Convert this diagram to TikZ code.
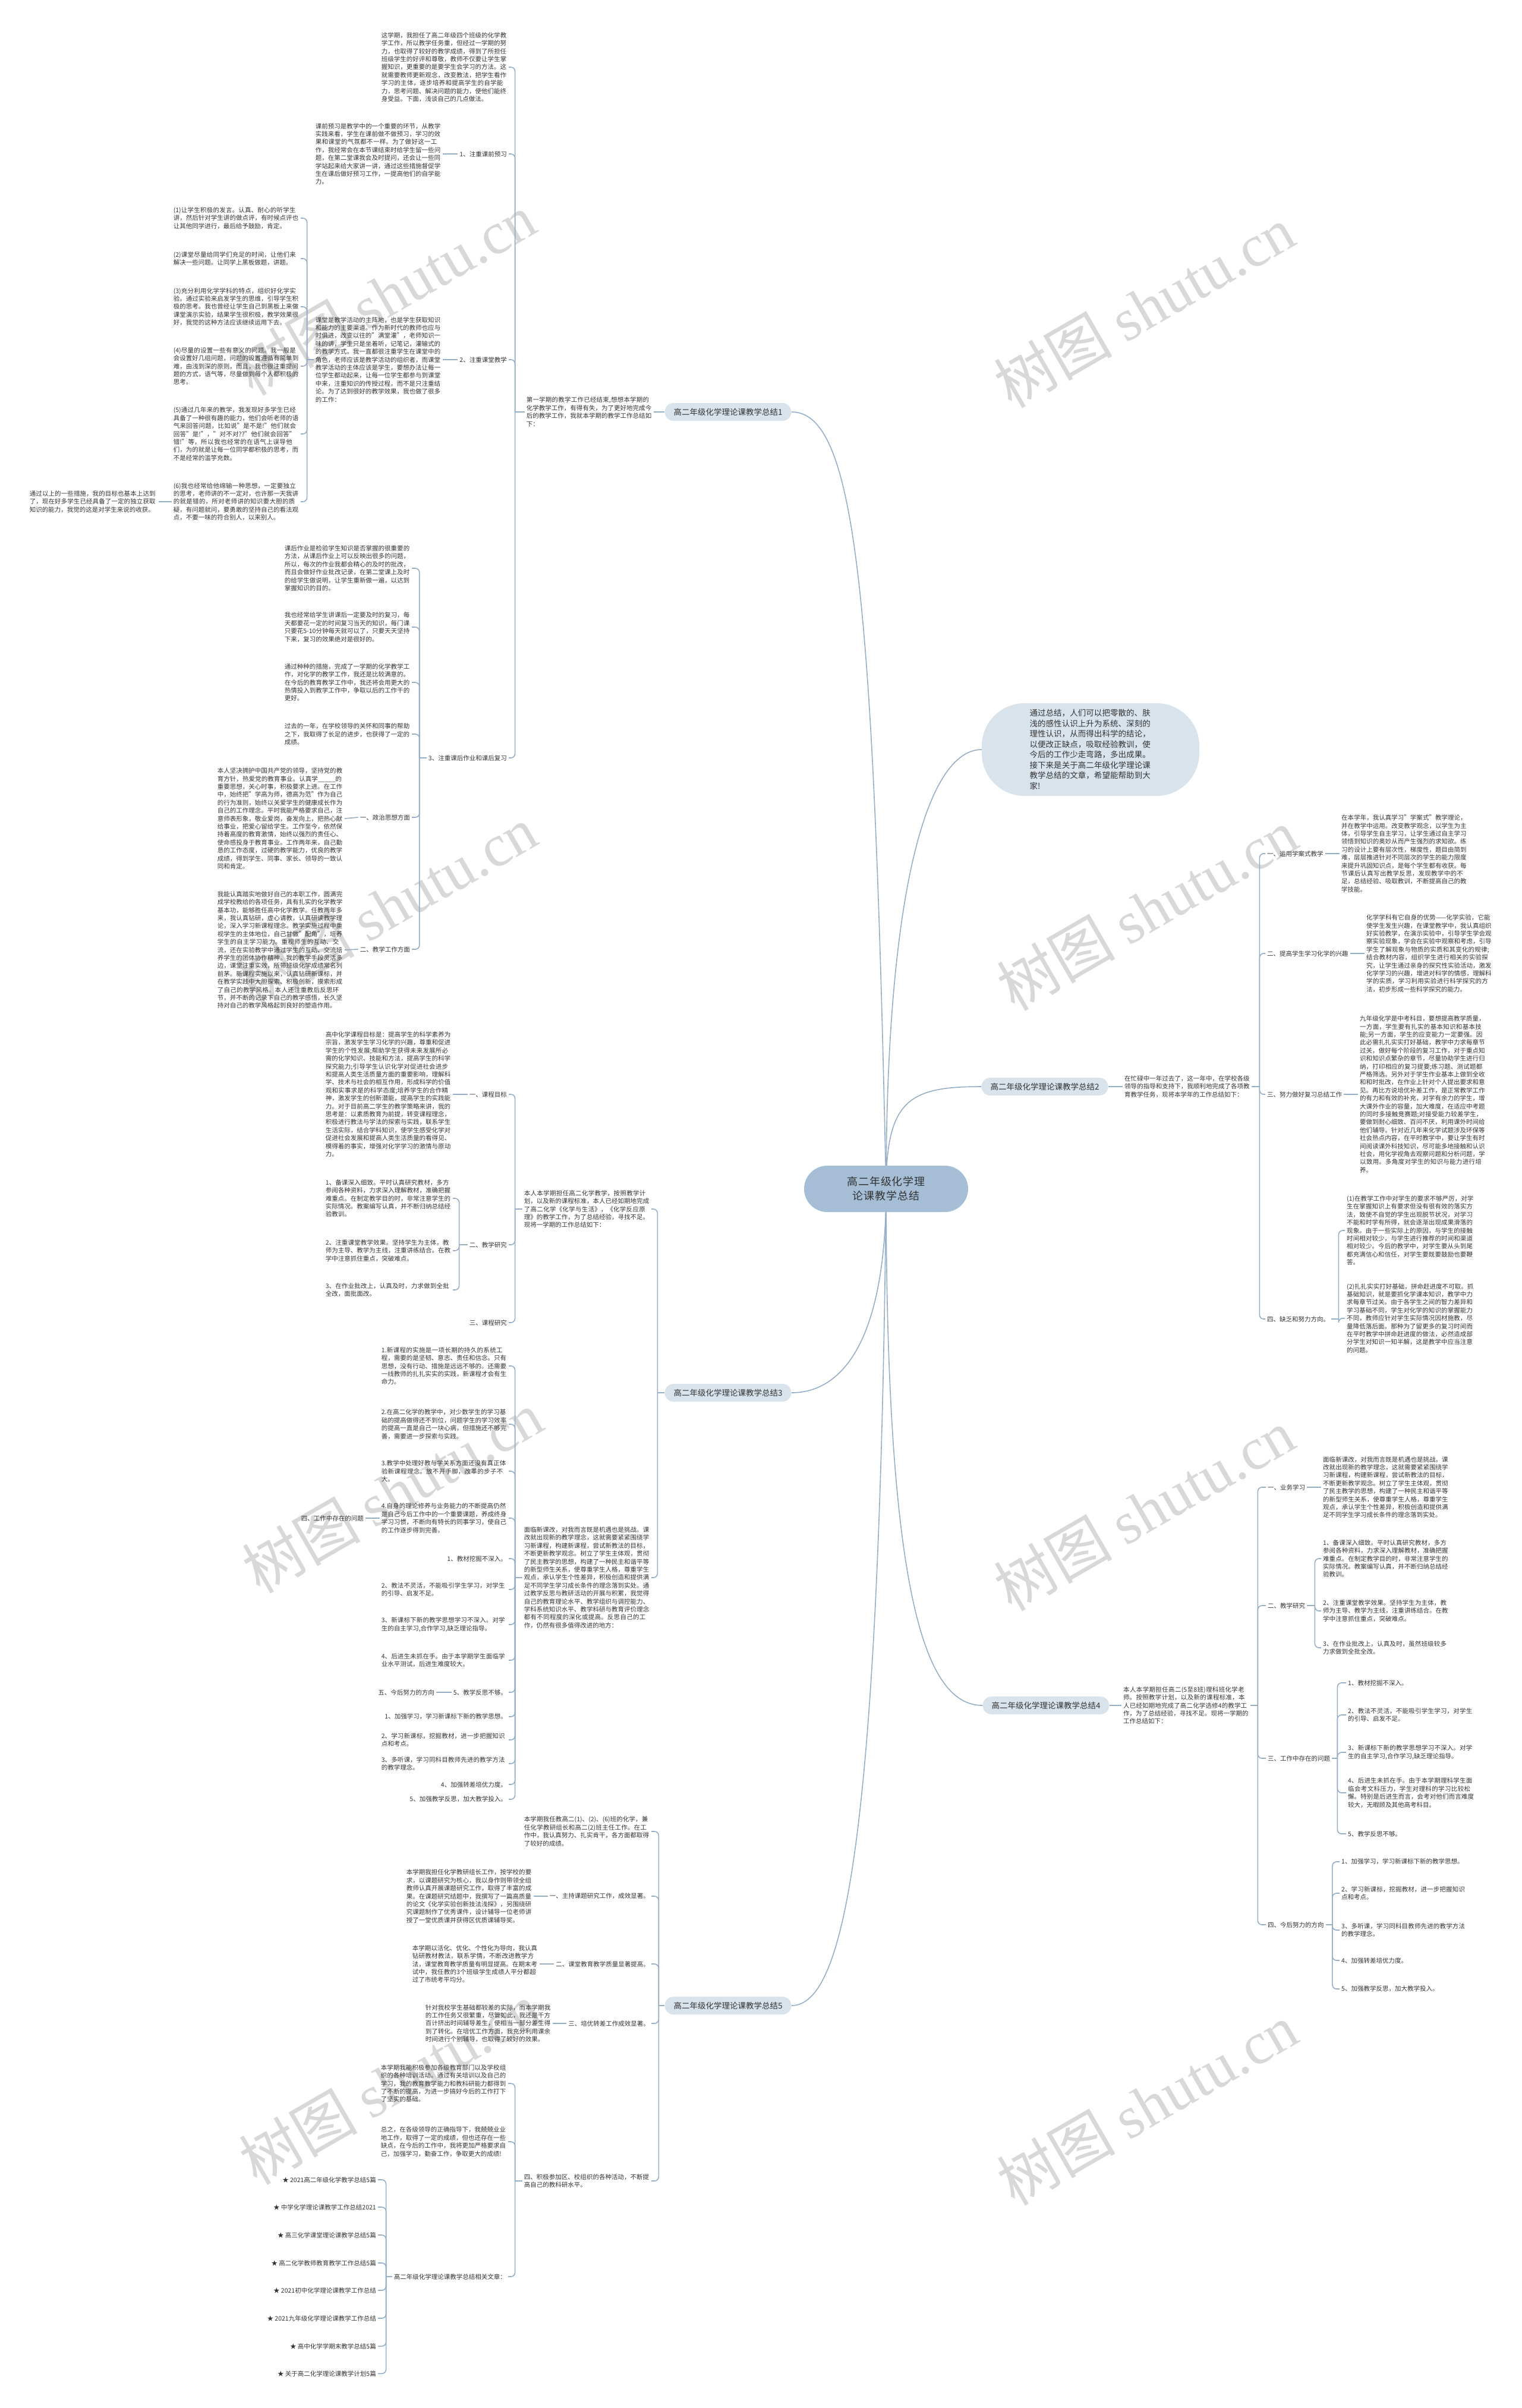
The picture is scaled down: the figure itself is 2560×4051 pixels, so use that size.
\documentclass[tikz,border=0pt]{standalone}
\usepackage{fontspec}
\setmainfont{Noto Sans CJK SC}
\newfontfamily\wmlat{Liberation Serif}
\XeTeXlinebreaklocale "zh"
\XeTeXlinebreakskip=0pt plus 1pt
\pgfdeclarelayer{wmlayer}
\pgfdeclarelayer{bglayer}
\pgfsetlayers{wmlayer,bglayer,main}
\definecolor{lnc}{RGB}{150,174,198}
\definecolor{pillc}{RGB}{216,227,236}
\definecolor{rootc}{RGB}{165,190,214}
\definecolor{txtc}{RGB}{51,51,51}
\definecolor{wmc}{RGB}{216,216,216}
\tikzset{
  lnk/.style={draw=lnc,line width=1.6pt},
  txt/.style={inner xsep=3pt,inner ysep=1pt,text=txtc,font=\fontsize{10.5pt}{13.4pt}\selectfont,align=left},
  txw/.style={txt,text width=211pt},
  brn/.style={fill=pillc,rounded corners=15pt,minimum width=213pt,minimum height=30pt,inner sep=2pt,text=txtc,font=\fontsize{13.5pt}{16pt}\selectfont},
  rootn/.style={fill=rootc,rounded corners=39pt,minimum width=276pt,minimum height=78pt,text width=200pt,align=center,text=txtc,font=\fontsize{18pt}{24pt}\selectfont},
  ipill/.style={fill=pillc,rounded corners=72pt,minimum width=366pt,minimum height=156pt,text width=205pt,align=left,text=txtc,font=\fontsize{13.5pt}{17.5pt}\selectfont},
  wmk/.style={rotate=30,text=wmc,inner sep=0pt,font=\fontsize{100pt}{110pt}\selectfont}
}
\newcommand\lnkL[3]{\draw[lnk] (#1.west) -- ++(-#3,0);
  \draw[lnk,rounded corners=7pt] ([xshift=-#3pt]#1.west) |- (#2.east);}
\newcommand\lnkR[3]{\draw[lnk] (#1.east) -- ++(#3,0);
  \draw[lnk,rounded corners=7pt] ([xshift=#3pt]#1.east) |- (#2.west);}
\begin{document}
\begin{tikzpicture}[x=1pt,y=-1pt]
\path[use as bounding box] (0,0) rectangle (2560,4051);

% ---------- watermarks ----------
\begin{pgfonlayer}{wmlayer}
\fill[white] (0,0) rectangle (2560,4051);
\foreach \wx/\wy [count=\i] in {648/495,650/1525,660/2510,655/3505,1925/516,1930/1530,1925/2540,1930/3540}{
  \node[wmk] (wm\i) at (\wx,\wy) {树图 {\wmlat shutu.cn}};
}
\end{pgfonlayer}

% ---------- root ----------
\node[rootn] (root) at (1491,2000) {高二年级化学理论课教学总结};
\node[ipill] (ip) at (1835,1261) {通过总结，人们可以把零散的、肤浅的感性认识上升为系统、深刻的理性认识，从而得出科学的结论，以便改正缺点，吸取经验教训，使今后的工作少走弯路，多出成果。接下来是关于高二年级化学理论课教学总结的文章，希望能帮助到大家!};
\node[brn] (b1) at (1225,693) {高二年级化学理论课教学总结1};
\node[brn] (b2) at (1758,1828) {高二年级化学理论课教学总结2};
\node[brn] (b3) at (1225,2343) {高二年级化学理论课教学总结3};
\node[brn] (b4) at (1760,2869) {高二年级化学理论课教学总结4};
\node[brn] (b5) at (1225,3374) {高二年级化学理论课教学总结5};

% ---------- branch 1 ----------
\node[txw,anchor=east] (i1) at (1100,693) {第一学期的教学工作已经结束,想想本学期的化学教学工作，有得有失，为了更好地完成今后的教学工作，我就本学期的教学工作总结如下：};
\node[txw,anchor=east] (t0) at (856,113) {这学期，我担任了高二年级四个班级的化学教学工作，所以教学任务重，但经过一学期的努力，也取得了较好的教学成绩，得到了所担任班级学生的好评和尊敬，教师不仅要让学生掌握知识，更重要的是要学生会学习的方法。这就需要教师更新观念，改变教法，把学生看作学习的主体，逐步培养和提高学生的自学能力，思考问题、解决问题的能力，使他们能终身受益。下面，浅谈自己的几点做法。};
\node[txt,anchor=east] (c1) at (856,259) {1、注重课前预习};
\node[txt,anchor=east] (c2) at (856,605) {2、注重课堂教学};
\node[txt,anchor=east] (c3) at (856,1275) {3、注重课后作业和课后复习};
\node[txw,anchor=east] (t1) at (745,259) {课前预习是教学中的一个重要的环节，从教学实践来看，学生在课前做不做预习，学习的效果和课堂的气氛都不一样。为了做好这一工作，我经常会在本节课结束时给学生留一些问题，在第二堂课我会及时提问，还会让一些同学站起来给大家讲一讲，通过这些措施督促学生在课后做好预习工作，一提高他们的自学能力。};
\node[txw,anchor=east] (t2) at (745,605) {课堂是教学活动的主阵地，也是学生获取知识和能力的主要渠道。作为新时代的教师也应与时俱进，改变以往的"满堂灌"，老师知识一味的讲，学生只是坐着听，记笔记，灌输式的的教学方式。我一直都很注重学生在课堂中的角色，老师应该是教学活动的组织者，而课堂教学活动的主体应该是学生，要想办法让每一位学生都动起来，让每一位学生都参与到课堂中来，注重知识的传授过程，而不是只注重结论。为了达到很好的教学效果，我也做了很多的工作：};
\node[txw,anchor=east] (p1) at (506,367) {(1)让学生积极的发言。认真、耐心的听学生讲，然后针对学生讲的做点评，有时候点评也让其他同学进行，最后给予鼓励，肯定。};
\node[txw,anchor=east] (p2) at (506,435) {(2)课堂尽量给同学们充足的时间，让他们来解决一些问题。让同学上黑板做题，讲题。};
\node[txw,anchor=east] (p3) at (506,516) {(3)充分利用化学学科的特点，组织好化学实验。通过实验来启发学生的思维，引导学生积极的思考。我也曾经让学生自己到黑板上来做课堂演示实验，结果学生很积极，教学效果很好，我觉的这种方法应该继续运用下去。};
\node[txw,anchor=east] (p4) at (506,616) {(4)尽量的设置一些有意义的问题。我一般是会设置好几组问题，问题的设置遵循有简单到难，由浅到深的原则，而且，我也很注重提问题的方式，语气等，尽量做到每个人都积极的思考。};
\node[txw,anchor=east] (p5) at (506,730) {(5)通过几年来的教学，我发现好多学生已经具备了一种很有趣的能力，他们会听老师的语气来回答问题，比如说"是不是!"他们就会回答"是!"，"对不对??"他们就会回答"错!"等，所以我也经常的在语气上误导他们，为的就是让每一位同学都积极的思考，而不是经常的滥竽充数。};
\node[txw,anchor=east] (p6) at (506,844) {(6)我也经常给他绵输一种思想，一定要独立的思考，老师讲的不一定对，也许那一天我讲的就是错的，所对老师讲的知识要大胆的质疑，有问题就问，要勇敢的坚持自己的看法观点，不要一味的符合别人，以来别人。};
\node[txt,text width=214pt,anchor=east] (q6) at (267,844) {通过以上的一些措施，我的目标也基本上达到了，现在好多学生已经具备了一定的独立获取知识的能力，我觉的这是对学生来说的收获。};
\node[txw,anchor=east] (a1) at (693,956) {课后作业是检验学生知识是否掌握的很重要的方法，从课后作业上可以反映出很多的问题，所以，每次的作业我都会精心的及时的批改，而且会做好作业批改记录，在第二堂课上及时的给学生做说明，让学生重新做一遍，以达到掌握知识的目的。};
\node[txw,anchor=east] (a2) at (693,1055) {我也经常给学生讲课后一定要及时的复习，每天都要花一定的时间复习当天的知识，每门课只要花5-10分钟每天就可以了，只要天天坚持下来，复习的效果绝对是很好的。};
\node[txw,anchor=east] (a3) at (693,1148) {通过种种的措施，完成了一学期的化学教学工作，对化学的教学工作，我还是比较满意的。在今后的教育教学工作中，我还将会用更大的热情投入到教学工作中，争取以后的工作干的更好。};
\node[txw,anchor=east] (a4) at (693,1235) {过去的一年，在学校领导的关怀和同事的帮助之下，我取得了长足的进步，也获得了一定的成绩。};
\node[txt,anchor=east] (a5) at (693,1375) {一、政治思想方面};
\node[txt,anchor=east] (a6) at (693,1597) {二、教学工作方面};
\node[txw,anchor=east] (e5) at (580,1377) {本人坚决拥护中国共产党的领导，坚持党的教育方针，热爱党的教育事业。认真学\_\_\_\_\_的重要思想，关心时事，积极要求上进。在工作中，始终把"学高为师，德高为范"作为自己的行为准则，始终以关爱学生的健康成长作为自己的工作理念。平时我能严格要求自己，注意师表形象，敬业爱岗，奋发向上，把热心献给事业，把爱心留给学生。工作至今，依然保持着高度的教育激情，始终以强烈的责任心、使命感投身于教育事业。工作两年来，自己勤恳的工作态度，过硬的教学能力，优良的教学成绩，得到学生、同事、家长、领导的一致认同和肯定。};
\node[txw,anchor=east] (e6) at (580,1598) {我能认真踏实地做好自己的本职工作，圆满完成学校教给的各项任务，具有扎实的化学教学基本功，能够胜任高中化学教学。任教两年多来，我认真钻研，虚心请教，认真研读教学理论，深入学习新课程理念。教学实施过程中重视学生的主体地位，自己甘做"配角"，培养学生的自主学习能力。重视师生的互动、交流，还在实验教学中通过学生的互动、交流培养学生的团体协作精神。我的教学手段灵活多边，课堂注重实效，所带班级化学成绩常名列前茅。新课程实施以来，认真钻研新课标，并在教学实践中大胆探索、积极创新，摸索形成了自己的教学风格。本人还注重教后反思环节，并不断的记录下自己的教学感悟，长久坚持对自己的教学风格起到良好的塑造作用。};

% ---------- branch 2 ----------
\node[txw,anchor=west] (j2) at (1889,1828) {在忙碌中一年过去了，这一年中，在学校各级领导的指导和支持下，我顺利地完成了各项教育教学任务，现将本学年的工作总结如下：};
\node[txt,anchor=west] (r1) at (2129,1436) {一、运用学案式教学};
\node[txt,anchor=west] (r2) at (2129,1604) {二、提高学生学习化学的兴趣};
\node[txt,anchor=west] (r3) at (2129,1841) {三、努力做好复习总结工作};
\node[txt,anchor=west] (r4) at (2129,2219) {四、缺乏和努力方向。};
\node[txw,anchor=west] (s1) at (2254,1436) {在本学年，我认真学习"学案式"教学理论，并在教学中运用。改变教学观念，以学生为主体，引导学生自主学习，让学生通过自主学习领悟到知识的奥妙从而产生强烈的求知欲。练习的设计上要有层次性，梯度性，题目由简到难，层层推进针对不同层次的学生的能力限度来提升巩固知识点，是每个学生都有收获。每节课后认真写出教学反思，发现教学中的不足，总结经验、吸取教训，不断提高自己的教学技能。};
\node[txw,anchor=west] (s2) at (2296,1604) {化学学科有它自身的优势——化学实验，它能使学生发生兴趣，在课堂教学中，我认真组织好实验教学，在演示实验中，引导学生学会观察实验现象，学会在实验中观察和考虑，引导学生了解现象与物质的实质和其变化的规律;结合教材内容，组织学生进行相关的实验探究，让学生通过亲身的探究性实验活动，激发化学学习的兴趣，增进对科学的情感，理解科学的实质，学习利用实验进行科学探究的方法，初步形成一些科学探究的能力。};
\node[txw,anchor=west] (s3) at (2285,1841) {九年级化学是中考科目，要想提高教学质量，一方面，学生要有扎实的基本知识和基本技能;另一方面，学生的应变能力一定要强。因此必需扎扎实实打好基础，教学中力求每章节过关，做好每个阶段的复习工作，对于重点知识和知识点繁杂的章节，尽量协助学生进行归纳，打印相应的复习提要;练习题、测试题都严格筛选。另外对于学生作业基本上做到全收和和时批改，在作业上针对个人提出要求和意见。再比方说培优补差工作，是正常教学工作的有力和有效的补充，对学有余力的学生，增大课外作业的容量，加大难度，在适应中考题的同时多接触竞赛题;对接受能力较差学生，要做到耐心细致、百问不厌，利用课外时间给他们辅导。针对近几年来化学试题涉及环保等社会热点内容，在平时教学中，要让学生有时间阅读课外科技知识，尽可能多地接触和认识社会，用化学视角去观察问题和分析问题，学以致用。多角度对学生的知识与能力进行培养。};
\node[txt,text width=214pt,anchor=west] (u1) at (2263,2070) {(1)在教学工作中对学生的要求不够严厉，对学生在掌握知识上有要求但没有很有效的落实方法，致使不自觉的学生出现脱节状况，对学习不能和时学有所得，就会逐渐出现成果滑落的现象。由于一些实际上的原因，与学生的接触时间相对较少，与学生进行推荐的时间和渠道相对较少。今后的教学中，对学生要从头到尾都充满信心和信任，对学生要既要鼓励也要鞭答。};
\node[txt,text width=214pt,anchor=north west] (u2) at (2263,2158) {(2)扎扎实实打好基础，拼命赶进度不可取。抓基础知识，就是要抓化学课本知识，教学中力求每章节过关。由于各学生之间的智力差异和学习基础不同，学生对化学的知识的掌握能力不同，教师应针对学生实际情况因材施教，尽量降低落后面。那种为了留更多的复习时间而在平时教学中拼命赶进度的做法，必然造成部分学生对知识一知半解，这是教学中应当注意的问题。};

% ---------- branch 3 ----------
\node[txw,anchor=east] (k1) at (1096,2034) {本人本学期担任高二化学教学，按照教学计划，以及新的课程标准，本人已经如期地完成了高二化学《化学与生活》，《化学反应原理》的教学工作，为了总结经验，寻找不足。现将一学期的工作总结如下：};
\node[txw,anchor=east] (k2) at (1096,2654) {面临新课改，对我而言既是机遇也是挑战。课改就出现新的教学理念，这就需要紧紧围绕学习新课程，构建新课程，尝试新教法的目标，不断更新教学观念。树立了学生主体观，贯彻了民主教学的思想，构建了一种民主和谐平等的新型师生关系，使尊重学生人格，尊重学生观点，承认学生个性差异，积极创造和提供满足不同学生学习成长条件的理念落到实处。通过教学反思与教研活动的开展与积累，我觉得自己的教育理论水平、教学组织与调控能力、学科系统知识水平、教学科研与教育评价理念都有不同程度的深化或提高。反思自己的工作，仍然有很多值得改进的地方：};
\node[txt,anchor=east] (v1) at (856,1841) {一、课程目标};
\node[txt,anchor=east] (v2) at (856,2094) {二、教学研究};
\node[txt,anchor=east] (v3) at (856,2225) {三、课程研究};
\node[txw,anchor=east] (w1) at (762,1841) {高中化学课程目标是：提高学生的科学素养为宗旨，激发学生学习化学的兴趣，尊重和促进学生的个性发展;帮助学生获得未来发展所必需的化学知识、技能和方法，提高学生的科学探究能力;引导学生认识化学对促进社会进步和提高人类生活质量方面的重要影响，理解科学、技术与社会的相互作用，形成科学的价值观和实事求是的科学态度;培养学生的合作精神，激发学生的创新潜能，提高学生的实践能力。对于目前高二学生的教学策略来讲，我的思考是：以素质教育为前提，转变课程理念，积极进行教法与学法的探索与实践，联系学生生活实际，结合学科知识，使学生感受化学对促进社会发展和提高人类生活质量的看得见、模得着的事实，增强对化学学习的激情与原动力。};
\node[txw,anchor=east] (x1) at (762,2016) {1、备课深入细致。平时认真研究教材，多方参阅各种资料，力求深入理解教材，准确把握难重点。在制定教学目的时，非常注意学生的实际情况。教案编写认真，并不断归纳总结经验教训。};
\node[txw,anchor=east] (x2) at (762,2104) {2、注重课堂教学效果。坚持学生为主体，教师为主导、教学为主线，注重讲练结合。在教学中注意抓住重点，突破难点。};
\node[txw,anchor=east] (x3) at (762,2170) {3、在作业批改上，认真及时，力求做到全批全改，面批面改。};
\node[txw,anchor=east] (y1) at (856,2298) {1.新课程的实施是一项长期的持久的系统工程，需要的是坚韧、意志、责任和信念。只有思想，没有行动、措施是远远不够的。还需要一线教师的扎扎实实的实践，新课程才会有生命力。};
\node[txw,anchor=east] (y2) at (856,2396) {2.在高二化学的教学中，对少数学生的学习基础的提高做得还不到位，问题学生的学习效率的提高一直是自己一块心病，但措施还不够完善，需要进一步探索与实践。};
\node[txw,anchor=east] (y3) at (856,2475) {3.教学中处理好教与学关系方面还没有真正体验新课程理念。放不开手脚，改革的步子不大。};
\node[txw,anchor=east] (y4) at (856,2554) {4.自身的理论修养与业务能力的不断提高仍然是自己今后工作中的一个重要课题，养成终身学习习惯，不断向有特长的同事学习，使自己的工作逐步得到完善。};
\node[txt,anchor=east] (g4) at (615,2554) {四、工作中存在的问题};
\node[txt,anchor=east] (y5) at (856,2622) {1、教材挖掘不深入。};
\node[txw,anchor=east] (y6) at (856,2674) {2、教法不灵活，不能吸引学生学习，对学生的引导、启发不足。};
\node[txw,anchor=east] (y7) at (856,2733) {3、新课标下新的教学思想学习不深入。对学生的自主学习,合作学习,缺乏理论指导。};
\node[txw,anchor=east] (y8) at (856,2793) {4、后进生未抓在手。由于本学期学生面临学业水平测试，后进生难度较大。};
\node[txt,anchor=east] (y9) at (856,2847) {5、教学反思不够。};
\node[txt,anchor=east] (g5) at (734,2847) {五、今后努力的方向};
\node[txt,anchor=east] (y10) at (856,2888) {1、加强学习，学习新课标下新的教学思想。};
\node[txw,anchor=east] (y11) at (856,2927) {2、学习新课标，挖掘教材，进一步把握知识点和考点。};
\node[txw,anchor=east] (y12) at (856,2967) {3、多听课，学习同科目教师先进的教学方法的教学理念。};
\node[txt,anchor=east] (y13) at (856,3002) {4、加强转差培优力度。};
\node[txt,anchor=east] (y14) at (856,3027) {5、加强教学反思，加大教学投入。};

% ---------- branch 4 ----------
\node[txw,anchor=west] (m4) at (1887,2869) {本人本学期担任高二(5至8班)理科班化学老师。按照教学计划，以及新的课程标准，本人已经如期地完成了高二化学选修4的教学工作，为了总结经验，寻找不足。现将一学期的工作总结如下：};
\node[txt,anchor=west] (n1) at (2130,2502) {一、业务学习};
\node[txt,anchor=west] (n2) at (2130,2701) {二、教学研究};
\node[txt,anchor=west] (n3) at (2130,2958) {三、工作中存在的问题};
\node[txt,anchor=west] (n4) at (2130,3238) {四、今后努力的方向};
\node[txw,anchor=west] (o1) at (2223,2502) {面临新课改，对我而言既是机遇也是挑战。课改就出现新的教学理念，这就需要紧紧围绕学习新课程，构建新课程，尝试新教法的目标，不断更新教学观念。树立了学生主体观，贯彻了民主教学的思想，构建了一种民主和谐平等的新型师生关系，使尊重学生人格，尊重学生观点，承认学生个性差异，积极创造和提供满足不同学生学习成长条件的理念落到实处。};
\node[txw,anchor=west] (o2) at (2223,2622) {1、备课深入细致。平时认真研究教材，多方参阅各种资料，力求深入理解教材，准确把握难重点。在制定教学目的时，非常注意学生的实际情况。教案编写认真，并不断归纳总结经验教训。};
\node[txw,anchor=west] (o3) at (2223,2710) {2、注重课堂教学效果。坚持学生为主体，教师为主导、教学为主线，注重讲练结合。在教学中注意抓住重点，突破难点。};
\node[txw,anchor=west] (o4) at (2223,2772) {3、在作业批改上，认真及时，虽然班级较多力求做到全批全改。};
\node[txt,anchor=west] (o5) at (2265,2831) {1、教材挖掘不深入。};
\node[txt,text width=214pt,anchor=west] (o6) at (2265,2885) {2、教法不灵活，不能吸引学生学习，对学生的引导、启发不足。};
\node[txt,text width=214pt,anchor=west] (o7) at (2265,2948) {3、新课标下新的教学思想学习不深入。对学生的自主学习,合作学习,缺乏理论指导。};
\node[txt,text width=214pt,anchor=west] (o8) at (2265,3016) {4、后进生未抓在手。由于本学期理科学生面临会考文科压力，学生对理科的学习比较松懈。特别是后进生而言，会考对他们而言难度较大，无暇顾及其他高考科目。};
\node[txt,anchor=west] (o9) at (2265,3085) {5、教学反思不够。};
\node[txt,anchor=west] (o10) at (2254,3132) {1、加强学习，学习新课标下新的教学思想。};
\node[txw,anchor=west] (o11) at (2254,3185) {2、学习新课标，挖掘教材，进一步把握知识点和考点。};
\node[txw,anchor=west] (o12) at (2254,3247) {3、多听课，学习同科目教师先进的教学方法的教学理念。};
\node[txt,anchor=west] (o13) at (2254,3298) {4、加强转差培优力度。};
\node[txt,anchor=west] (o14) at (2254,3346) {5、加强教学反思，加大教学投入。};

% ---------- branch 5 ----------
\node[txw,anchor=east] (z0) at (1096,3081) {本学期我任教高二(1)、(2)、(6)班的化学，兼任化学教研组长和高二(2)班主任工作。在工作中，我认真努力、扎实肯干，各方面都取得了较好的成绩。};
\node[txt,anchor=east] (z1) at (1096,3190) {一、主持课题研究工作，成效显著。};
\node[txt,anchor=east] (z2) at (1096,3304) {二、课堂教育教学质量显著提高。};
\node[txt,anchor=east] (z3) at (1096,3404) {三、培优转差工作成效显著。};
\node[txw,anchor=east] (z4) at (1096,3669) {四、积极参加区、校组织的各种活动，不断提高自己的教科研水平。};
\node[txw,anchor=east] (zz1) at (898,3190) {本学期我担任化学教研组长工作，按学校的要求，以课题研究为核心，我以身作则带领全组教师认真开展课题研究工作，取得了丰富的成果。在课题研究结题中，我撰写了一篇高质量的论文《化学实验创新技法浅探》，另围绕研究课题制作了优秀课件，设计辅导一位老师讲授了一堂优质课并获得区优质课辅导奖。};
\node[txw,anchor=east] (zz2) at (908,3304) {本学期以活化、优化、个性化为导向，我认真钻研教材教法，联系学情，不断改进教学方法，课堂教育教学质量有明显提高。在期末考试中，我任教的3个班级学生成绩人平分都超过了市统考平均分。};
\node[txw,anchor=east] (zz3) at (930,3404) {针对我校学生基础都较差的实际，而本学期我的工作任务又很繁重，尽管如此，我还是千方百计挤出时间辅导差生，使相当一部分差生得到了转化。在培优工作方面，我充分利用课余时间进行个别辅导，也取得了较好的效果。};
\node[txw,anchor=east] (zz4) at (855,3505) {本学期我能积极参加各级教育部门以及学校组织的各种培训活动。通过有关培训以及自己的学习，我的教育教学能力和教科研能力都得到了不断的提高，为进一步搞好今后的工作打下了坚实的基础。};
\node[txw,anchor=east] (zz5) at (855,3603) {总之，在各级领导的正确指导下，我兢兢业业地工作，取得了一定的成绩，但也还存在一些缺点，在今后的工作中，我将更加严格要求自己，加强学习，勤奋工作，争取更大的成绩!};
\node[txt,anchor=east] (rel) at (855,3830) {高二年级化学理论课教学总结相关文章：};
\node[txt,anchor=east] (l1) at (636,3667) {★ 2021高二年级化学教学总结5篇};
\node[txt,anchor=east] (l2) at (636,3713) {★ 中学化学理论课教学工作总结2021};
\node[txt,anchor=east] (l3) at (636,3760) {★ 高三化学课堂理论课教学总结5篇};
\node[txt,anchor=east] (l4) at (636,3807) {★ 高二化学教师教育教学工作总结5篇};
\node[txt,anchor=east] (l5) at (636,3853) {★ 2021初中化学理论课教学工作总结};
\node[txt,anchor=east] (l6) at (636,3900) {★ 2021九年级化学理论课教学工作总结};
\node[txt,anchor=east] (l7) at (636,3947) {★ 高中化学学期末教学总结5篇};
\node[txt,anchor=east] (l8) at (636,3993) {★ 关于高二化学理论课教学计划5篇};

% ---------- connectors ----------
\begin{pgfonlayer}{bglayer}
\draw[lnk] (root.center) .. controls (1470,1000) and (1440,693) .. (b1.east);
\draw[lnk] (root.center) .. controls (1491,1500) and (1560,1261) .. (ip.west);
\draw[lnk] (root.center) .. controls (1491,1850) and (1530,1828) .. (b2.west);
\draw[lnk] (root.center) .. controls (1491,2250) and (1420,2343) .. (b3.east);
\draw[lnk] (root.center) .. controls (1491,2700) and (1560,2869) .. (b4.west);
\draw[lnk] (root.center) .. controls (1480,3100) and (1420,3374) .. (b5.east);
% branch 1
\draw[lnk] (b1.west) -- (i1.east);
\foreach \c in {t0,c1,c2,c3}{\lnkL{i1}{\c}{16}}
\draw[lnk] (c1.west) -- (t1.east);
\draw[lnk] (c2.west) -- (t2.east);
\foreach \c in {p1,p2,p3,p4,p5,p6}{\lnkL{t2}{\c}{11}}
\draw[lnk] (p6.west) -- (q6.east);
\foreach \c in {a1,a2,a3,a4,a5,a6}{\lnkL{c3}{\c}{12}}
\draw[lnk] (a5.west) -- (e5.east);
\draw[lnk] (a6.west) -- (e6.east);
% branch 2
\draw[lnk] (b2.east) -- (j2.west);
\foreach \c in {r1,r2,r3,r4}{\lnkR{j2}{\c}{13}}
\draw[lnk] (r1.east) -- (s1.west);
\draw[lnk] (r2.east) -- (s2.west);
\draw[lnk] (r3.east) -- (s3.west);
\foreach \c in {u1,u2}{\lnkR{r4}{\c}{12}}
% branch 3
\foreach \c in {k1,k2}{\lnkL{b3}{\c}{12}}
\foreach \c in {v1,v2,v3}{\lnkL{k1}{\c}{12}}
\draw[lnk] (v1.west) -- (w1.east);
\foreach \c in {x1,x2,x3}{\lnkL{v2}{\c}{14}}
\foreach \c in {y1,y2,y3,y4,y5,y6,y7,y8,y9,y10,y11,y12,y13,y14}{\lnkL{k2}{\c}{12}}
\draw[lnk] (y4.west) -- (g4.east);
\draw[lnk] (y9.west) -- (g5.east);
% branch 4
\draw[lnk] (b4.east) -- (m4.west);
\foreach \c in {n1,n2,n3,n4}{\lnkR{m4}{\c}{12}}
\draw[lnk] (n1.east) -- (o1.west);
\foreach \c in {o2,o3,o4}{\lnkR{n2}{\c}{13}}
\foreach \c in {o5,o6,o7,o8,o9}{\lnkR{n3}{\c}{9}}
\foreach \c in {o10,o11,o12,o13,o14}{\lnkR{n4}{\c}{11}}
% branch 5
\foreach \c in {z0,z1,z2,z3,z4}{\lnkL{b5}{\c}{10}}
\draw[lnk] (z1.west) -- (zz1.east);
\draw[lnk] (z2.west) -- (zz2.east);
\draw[lnk] (z3.west) -- (zz3.east);
\foreach \c in {zz4,zz5,rel}{\lnkL{z4}{\c}{12}}
\foreach \c in {l1,l2,l3,l4,l5,l6,l7,l8}{\lnkL{rel}{\c}{10}}
\end{pgfonlayer}
\end{tikzpicture}
\end{document}
